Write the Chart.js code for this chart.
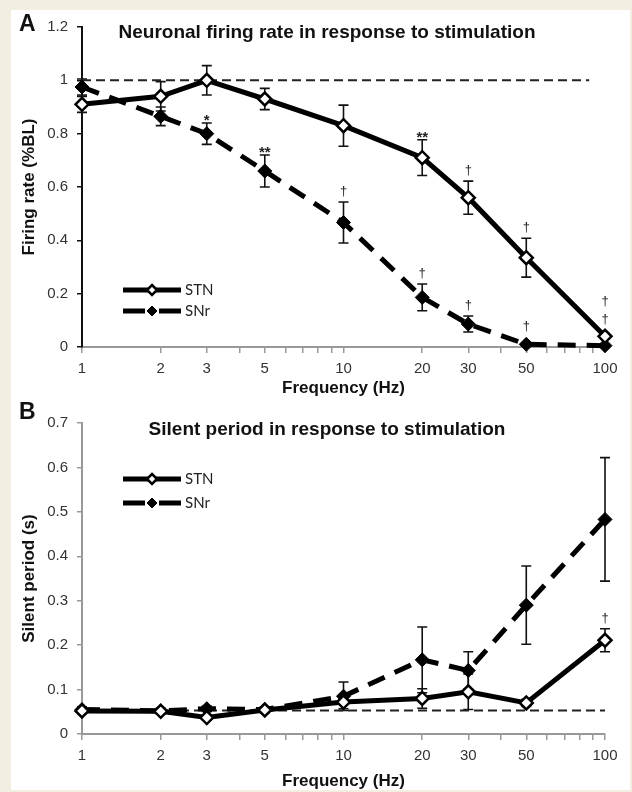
<!DOCTYPE html>
<html>
<head>
<meta charset="utf-8">
<script src="https://cdn.jsdelivr.net/npm/chart.js@4.4.0/dist/chart.umd.min.js"></script>
<style>
  html, body { margin: 0; padding: 0; }
  body { width: 632px; height: 792px; background: #f2efe2; position: relative; overflow: hidden; }
  #sheet { position: absolute; left: 11px; top: 10px; width: 619px; height: 780px; background: #fff; }
  canvas { position: absolute; left: 0; }
  #chartA { top: 0; }
  #chartB { top: 400px; }
</style>
</head>
<body>
<div id="sheet"></div>
<canvas id="chartA" width="632" height="400"></canvas>
<canvas id="chartB" width="632" height="392"></canvas>
<script>
// Stimulation frequencies (Hz) and x axis ticks
const freqs = [1, 2, 3, 5, 10, 20, 30, 50, 100];
const xTickValues = [1, 2, 3, 4, 5, 6, 7, 8, 9, 10, 20, 30, 40, 50, 60, 70, 80, 90, 100];
const xTickLabels = [1, 2, 3, 5, 10, 20, 30, 50, 100];

// Panel A: firing rate (%BL)
const rateTicks = [0, 0.2, 0.4, 0.6, 0.8, 1, 1.2];
const stnRate = [0.91, 0.94, 1.00, 0.93, 0.83, 0.71, 0.56, 0.335, 0.04];
const stnRateErr = [0.03, 0.055, 0.055, 0.04, 0.077, 0.067, 0.062, 0.073, 0.01];
const snrRate = [0.975, 0.865, 0.80, 0.66, 0.467, 0.186, 0.086, 0.01, 0.005];
const snrRateErr = [0.03, 0.035, 0.04, 0.06, 0.077, 0.05, 0.03, 0.004, 0.004];
const stnRateMarks = ['', '', '', '', '', '**', '†', '†', '†\n†'];
const snrRateMarks = ['', '', '*', '**', '†', '†', '†', '†', ''];
const rateBaseline = 1;
const rateBaselineX = [1, 87];

// Panel B: silent period (s)
const silentTicks = [0, 0.1, 0.2, 0.3, 0.4, 0.5, 0.6, 0.7];
const stnSilent = [0.052, 0.051, 0.037, 0.054, 0.072, 0.08, 0.095, 0.07, 0.211];
const stnSilentErr = [0.006, 0.006, 0.006, 0.006, 0.015, 0.022, 0.04, 0.008, 0.026];
const snrSilent = [0.055, 0.052, 0.057, 0.055, 0.085, 0.167, 0.143, 0.29, 0.483];
const snrSilentErr = [0.006, 0.006, 0.006, 0.006, 0.032, 0.074, 0.042, 0.088, 0.139];
const stnSilentMarks = ['', '', '', '', '', '', '', '', '†'];
const snrSilentMarks = ['', '', '', '', '', '', '', '', ''];
const silentBaseline = 0.053;
const silentBaselineX = [1, 100];

const FONT = '"Liberation Sans", Arial, sans-serif';

function makeChart(id, p) {
    const datasets = [
        {
            label: 'STN',
            data: freqs.map((f, i) => ({ x: f, y: p.stn[i] })),
            err: p.stnErr, marks: p.stnMarks,
            borderColor: '#000', borderWidth: 5, tension: 0, clip: false,
            pointStyle: 'rectRot', pointRadius: 6.5, pointBorderWidth: 2.5,
            pointBackgroundColor: '#fff', pointBorderColor: '#000',
        },
        {
            label: 'SNr',
            data: freqs.map((f, i) => ({ x: f, y: p.snr[i] })),
            err: p.snrErr, marks: p.snrMarks,
            borderColor: '#000', borderWidth: 5, borderDash: [18, 11], tension: 0, clip: false,
            pointStyle: 'rectRot', pointRadius: 7, pointBorderWidth: 1,
            pointBackgroundColor: '#000', pointBorderColor: '#000',
        },
        {
            label: 'baseline',
            data: p.baseX.map(x => ({ x: x, y: p.base })),
            borderColor: '#222', borderWidth: 2, borderDash: [9, 5], pointRadius: 0,
        },
    ];

    // error bars, significance marks, panel letter, title and legend
    const decor = {
        id: 'decor' + id,
        beforeDatasetsDraw(chart) {
            const ctx = chart.ctx, xs = chart.scales.x, ys = chart.scales.y;
            ctx.save();
            ctx.strokeStyle = '#111';
            ctx.lineWidth = 1.6;
            chart.data.datasets.forEach(d => {
                if (!d.err) return;
                d.data.forEach((pt, i) => {
                    const e = d.err[i];
                    const px = xs.getPixelForValue(pt.x);
                    const top = ys.getPixelForValue(pt.y + e);
                    const bot = ys.getPixelForValue(Math.max(0, pt.y - e));
                    ctx.beginPath();
                    ctx.moveTo(px, top); ctx.lineTo(px, bot);
                    ctx.moveTo(px - 5, top); ctx.lineTo(px + 5, top);
                    ctx.moveTo(px - 5, bot); ctx.lineTo(px + 5, bot);
                    ctx.stroke();
                });
            });
            ctx.restore();
        },
        afterDatasetsDraw(chart) {
            const ctx = chart.ctx, xs = chart.scales.x, ys = chart.scales.y;
            ctx.save();
            ctx.fillStyle = '#222';
            ctx.textAlign = 'center';
            ctx.textBaseline = 'alphabetic';
            chart.data.datasets.forEach(d => {
                if (!d.marks) return;
                d.data.forEach((pt, i) => {
                    const m = d.marks[i];
                    if (!m) return;
                    const px = xs.getPixelForValue(pt.x);
                    const anchor = Math.min(ys.getPixelForValue(pt.y + d.err[i]), ys.getPixelForValue(pt.y) - d.pointRadius);
                    const lines = m.split('\n').reverse();
                    lines.forEach((t, k) => {
                        if (t.indexOf('*') >= 0) {
                            ctx.font = 'bold 15px ' + FONT;
                            ctx.fillText(t, px, anchor + 2 - k * 18);
                        } else {
                            ctx.font = '13px ' + FONT;
                            ctx.fillText(t, px, anchor - 7 - k * 18);
                        }
                    });
                });
            });
            ctx.restore();
        },
        afterDraw(chart) {
            const ctx = chart.ctx;
            ctx.save();
            ctx.fillStyle = '#111';
            ctx.textBaseline = 'middle';
            ctx.textAlign = 'left';
            ctx.font = 'bold 23px ' + FONT;
            ctx.fillText(p.letter, 19, p.letterY);
            ctx.textAlign = 'center';
            ctx.font = 'bold 19px ' + FONT;
            ctx.fillText(p.title, 327, p.titleY);

            // legend: line sample with marker in the middle
            chart.data.datasets.slice(0, 2).forEach((d, i) => {
                const y = p.legendY[i];
                const x0 = 123, x1 = 181, xm = 152;
                ctx.strokeStyle = '#000';
                ctx.lineWidth = 5;
                ctx.setLineDash(d.borderDash ? [22, 14] : []);
                ctx.beginPath();
                ctx.moveTo(x0, y); ctx.lineTo(x1, y);
                ctx.stroke();
                ctx.setLineDash([]);
                ctx.fillStyle = d.pointBackgroundColor;
                ctx.strokeStyle = d.pointBorderColor;
                ctx.lineWidth = d.pointBorderWidth;
                ctx.beginPath();
                ctx.moveTo(xm, y - 5); ctx.lineTo(xm + 5, y); ctx.lineTo(xm, y + 5); ctx.lineTo(xm - 5, y);
                ctx.closePath();
                ctx.fill(); ctx.stroke();
                ctx.fillStyle = '#222';
                ctx.textAlign = 'left';
                ctx.font = '15px Lato, sans-serif';
                ctx.fillText(d.label, 185, y);
            });
            ctx.restore();
        },
    };

    return new Chart(document.getElementById(id), {
        type: 'line',
        data: { datasets: datasets },
        options: {
            responsive: false,
            animation: false,
            layout: { padding: { top: p.padTop, right: 27, left: 0, bottom: 0 } },
            plugins: { legend: { display: false }, tooltip: { enabled: false } },
            scales: {
                x: {
                    type: 'logarithmic', min: 1, max: 100,
                    afterBuildTicks: s => { s.ticks = xTickValues.map(v => ({ value: v })); },
                    afterFit: s => { s.height = p.xAxisHeight; },
                    ticks: {
                        autoSkip: false, maxRotation: 0, color: '#333', padding: 7,
                        font: { family: FONT, size: 15 },
                        callback: v => xTickLabels.includes(v) ? String(v) : '',
                    },
                    grid: { drawOnChartArea: false, drawTicks: true, tickLength: 6, color: p.xAxisColor, lineWidth: 1.5 },
                    border: { display: true, color: p.xAxisColor, width: 2 },
                    title: {
                        display: true, text: 'Frequency (Hz)', color: '#111',
                        font: { family: FONT, size: 17, weight: 'bold' },
                        padding: { top: 0, bottom: p.xTitlePad },
                    },
                },
                y: {
                    min: 0, max: p.yTicks[p.yTicks.length - 1],
                    afterBuildTicks: s => { s.ticks = p.yTicks.map(v => ({ value: v })); },
                    afterFit: s => { s.width = 82; },
                    ticks: {
                        color: '#333', padding: 9,
                        font: { family: FONT, size: 15 },
                        callback: v => String(+v.toFixed(2)),
                    },
                    grid: { drawOnChartArea: false, drawTicks: true, tickLength: 5, color: p.yAxisColor, lineWidth: 1.5 },
                    border: { display: true, color: p.yAxisColor, width: 2 },
                    title: {
                        display: true, text: p.yTitle, color: '#111',
                        font: { family: FONT, size: 17, weight: 'bold' },
                        padding: { top: 19, bottom: 0 },
                    },
                },
            },
        },
        plugins: [decor],
    });
}

makeChart('chartA', {
    stn: stnRate, stnErr: stnRateErr, stnMarks: stnRateMarks,
    snr: snrRate, snrErr: snrRateErr, snrMarks: snrRateMarks,
    base: rateBaseline, baseX: rateBaselineX,
    yTicks: rateTicks, yTitle: 'Firing rate (%BL)',
    letter: 'A', letterY: 25, title: 'Neuronal firing rate in response to stimulation', titleY: 33,
    legendY: [290, 311],
    padTop: 27, xAxisHeight: 53, xTitlePad: 1,
    xAxisColor: '#999', yAxisColor: '#111',
});

makeChart('chartB', {
    stn: stnSilent, stnErr: stnSilentErr, stnMarks: stnSilentMarks,
    snr: snrSilent, snrErr: snrSilentErr, snrMarks: snrSilentMarks,
    base: silentBaseline, baseX: silentBaselineX,
    yTicks: silentTicks, yTitle: 'Silent period (s)',
    letter: 'B', letterY: 13, title: 'Silent period in response to stimulation', titleY: 30,
    legendY: [79, 103],
    padTop: 23, xAxisHeight: 58, xTitlePad: 0,
    xAxisColor: '#999', yAxisColor: '#999',
});
</script>
</body>
</html>
